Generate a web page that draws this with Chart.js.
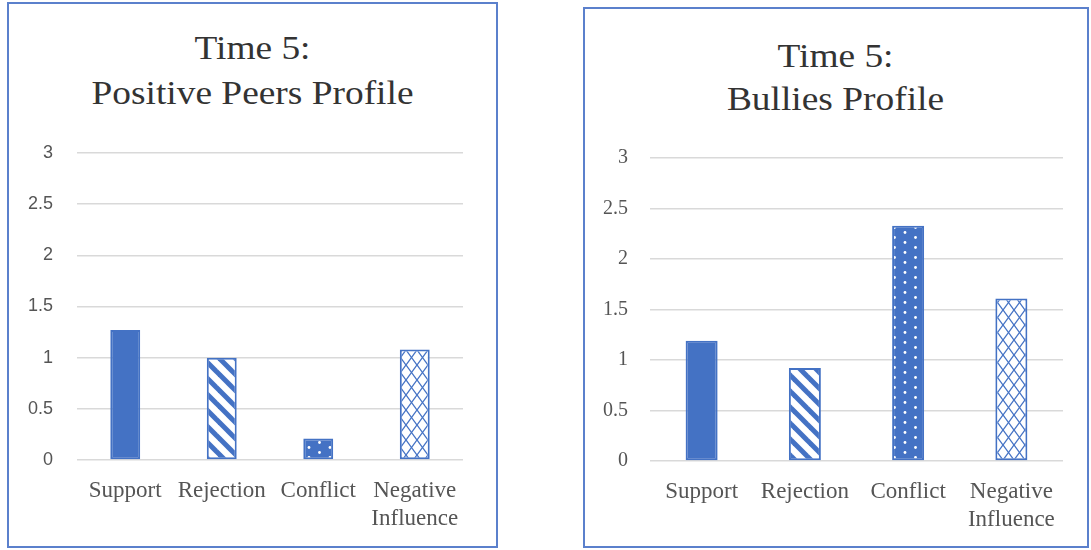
<!DOCTYPE html>
<html>
<head>
<meta charset="utf-8">
<script src="https://cdn.jsdelivr.net/npm/chart.js@4.4.1/dist/chart.umd.min.js"></script>
<style>
  html, body { margin:0; padding:0; background:#fff; }
  body { width:1091px; height:550px; position:relative; overflow:hidden; }
  .box { position:absolute; border:2px solid #5b80cc; box-sizing:border-box; }
  .title { position:absolute; text-align:center; font-family:"Liberation Serif", serif; font-size:34px; line-height:45px; color:#333; transform:scaleX(1.1); }
  .wrap { position:absolute; }
</style>
</head>
<body>
<div class="box" style="left:7px; top:2px; width:491px; height:546px;"></div>
<div class="box" style="left:583px; top:7px; width:506px; height:541px;"></div>

<div class="title" style="left:10px; top:25px; width:485px;">Time 5:<br>Positive Peers Profile</div>
<div class="title" style="left:585px; top:34px; width:501px; line-height:43px;">Time 5:<br>Bullies Profile</div>

<div class="wrap" style="left:10px; top:5px; width:485px; height:540px;"><canvas id="left"></canvas></div>
<div class="wrap" style="left:585px; top:10px; width:501px; height:535px;"><canvas id="right"></canvas></div>

<script>
// ── data ─────────────────────────────────────────────────────────────────────
const CATEGORIES = ["Support", "Rejection", "Conflict", ["Negative", "Influence"]];
const POSITIVE_PEERS = [1.27, 1.0, 0.21, 1.08];
const BULLIES = [1.19, 0.92, 2.33, 1.61];
const Y_TICKS = [0, 0.5, 1, 1.5, 2, 2.5, 3];

const BLUE = "#4472c4";
const GRID = "#d9d9d9";
const TICK = "#555";

// ── fill patterns ────────────────────────────────────────────────────────────
function tile(w, h, draw) {
  const c = document.createElement("canvas");
  c.width = w; c.height = h;
  const g = c.getContext("2d");
  draw(g, w, h);
  return g.createPattern(c, "repeat");
}

const solid = BLUE;

// wide downward diagonal; lines run past the tile so no caps show at the corners
const stripes = tile(16, 16, (g, w, h) => {
  g.fillStyle = "#fff"; g.fillRect(0, 0, w, h);
  g.strokeStyle = BLUE; g.lineWidth = 5;
  for (const o of [-w, 0, w]) {
    g.beginPath(); g.moveTo(o - w, -h); g.lineTo(o + 2 * w, 2 * h); g.stroke();
  }
});

const dots = tile(21, 10, (g, w, h) => {
  g.fillStyle = BLUE; g.fillRect(0, 0, w, h);
  g.fillStyle = "#fff";
  g.beginPath(); g.arc(5, 2.5, 1.4, 0, Math.PI * 2); g.fill();
  g.beginPath(); g.arc(15.5, 7.5, 1.4, 0, Math.PI * 2); g.fill();
});

const cross = tile(11, 15, (g, w, h) => {
  g.fillStyle = "#fff"; g.fillRect(0, 0, w, h);
  g.strokeStyle = BLUE; g.lineWidth = 1.3;
  g.beginPath(); g.moveTo(-w, -h); g.lineTo(2 * w, 2 * h); g.stroke();
  g.beginPath(); g.moveTo(2 * w, -h); g.lineTo(-w, 2 * h); g.stroke();
});

const FILLS = [solid, stripes, dots, cross];

// ── chart builder ────────────────────────────────────────────────────────────
function makeChart(id, values, opt) {
  return new Chart(document.getElementById(id), {
    type: "bar",
    data: {
      labels: CATEGORIES,
      datasets: [{
        data: values,
        backgroundColor: FILLS,
        borderColor: BLUE,
        borderWidth: 2,
        borderSkipped: false,
        categoryPercentage: 1,
        barPercentage: 0.31,
      }],
    },
    options: {
      responsive: true, maintainAspectRatio: false, animation: false,
      layout: { padding: { left: 0, right: opt.right, top: opt.top, bottom: 0 } },
      plugins: { legend: { display: false }, tooltip: { enabled: false } },
      scales: {
        x: {
          grid: { display: false, drawTicks: false },
          border: { display: false },
          afterFit: s => { s.height = opt.xHeight; },
          ticks: {
            autoSkip: false, maxRotation: 0, padding: 17, color: TICK,
            font: { family: "Liberation Serif", size: 23, lineHeight: 1.22 },
          },
        },
        y: {
          min: 0, max: 3,
          afterBuildTicks: s => { s.ticks = Y_TICKS.map(v => ({ value: v })); },
          grid: { color: GRID, lineWidth: 1.5, drawTicks: false },
          border: { display: false },
          afterFit: s => { s.width = opt.yWidth; },
          ticks: { padding: opt.yPad, color: TICK, font: opt.yFont, callback: v => String(v) },
        },
      },
    },
  });
}

makeChart("left", POSITIVE_PEERS, {
  right: 32, top: 148, xHeight: 85, yWidth: 67, yPad: 24,
  yFont: { family: "Liberation Sans", size: 18 },
});
makeChart("right", BULLIES, {
  right: 23, top: 148, xHeight: 84, yWidth: 65, yPad: 22,
  yFont: { family: "Liberation Serif", size: 20 },
});
</script>
</body>
</html>
